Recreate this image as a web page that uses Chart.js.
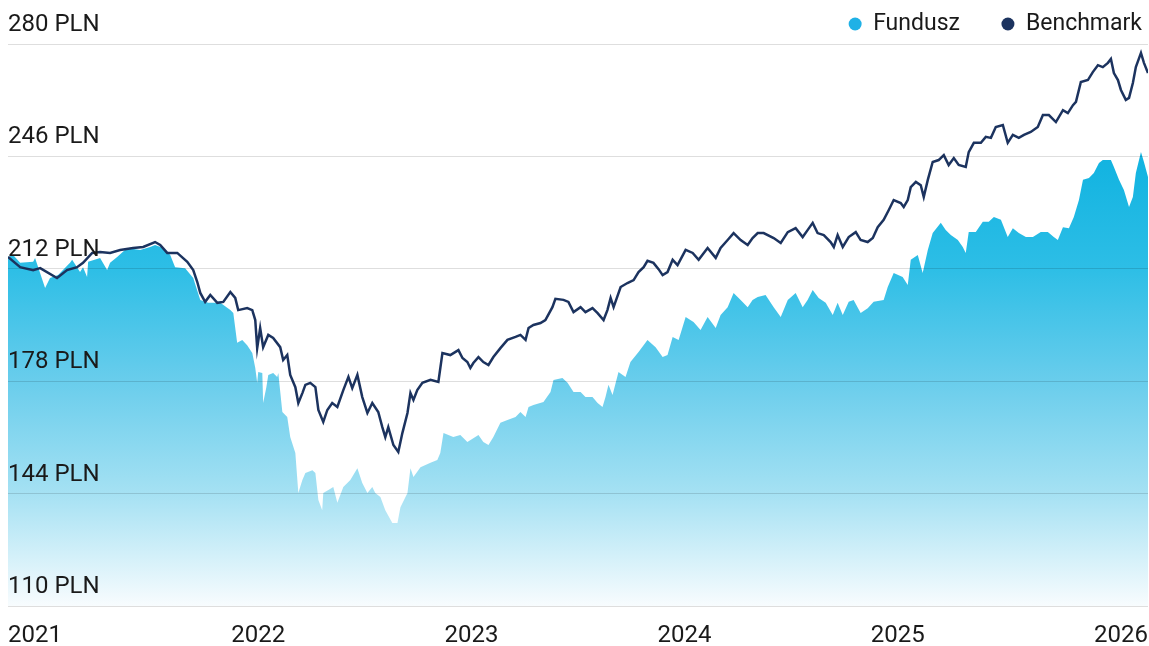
<!DOCTYPE html>
<html lang="pl">
<head>
<meta charset="utf-8">
<title>Fundusz vs Benchmark</title>
<script src="https://cdn.jsdelivr.net/npm/chart.js@4.4.1/dist/chart.umd.min.js"></script>
<style>
  html, body { margin: 0; padding: 0; background: #fff; }
  #wrap { width: 1149px; height: 646px; position: relative; }
</style>
</head>
<body>
<div id="wrap"><canvas id="chart"></canvas></div>
<script>
const yearLabels = ['2021', '2022', '2023', '2024', '2025', '2026'];
const yTicks = [110, 144, 178, 212, 246, 280];
const seriesNames = ['Fundusz', 'Benchmark'];
const seriesColors = ['#1fb1e6', '#1c335f'];

// dates as fractional years
const fundDates = [
  2020.826, 2020.850, 2020.883, 2020.944, 2020.953, 2021.000, 2021.023, 2021.061, 2021.117, 2021.127,
  2021.164, 2021.178, 2021.197, 2021.202, 2021.258, 2021.291, 2021.305, 2021.338, 2021.385, 2021.446,
  2021.493, 2021.516, 2021.554, 2021.587, 2021.610, 2021.657, 2021.695, 2021.728, 2021.765, 2021.822,
  2021.869, 2021.883, 2021.901, 2021.925, 2021.948, 2021.972, 2021.986, 2021.995, 2022.000, 2022.019,
  2022.023, 2022.038, 2022.047, 2022.070, 2022.089, 2022.094, 2022.113, 2022.136, 2022.150, 2022.174,
  2022.188, 2022.207, 2022.221, 2022.254, 2022.268, 2022.282, 2022.300, 2022.305, 2022.329, 2022.352,
  2022.371, 2022.399, 2022.432, 2022.465, 2022.488, 2022.512, 2022.535, 2022.549, 2022.573, 2022.596,
  2022.629, 2022.653, 2022.667, 2022.700, 2022.714, 2022.728, 2022.761, 2022.808, 2022.840, 2022.854,
  2022.869, 2022.915, 2022.948, 2022.981, 2023.033, 2023.056, 2023.080, 2023.103, 2023.136, 2023.169,
  2023.207, 2023.230, 2023.254, 2023.268, 2023.291, 2023.338, 2023.371, 2023.385, 2023.427, 2023.451,
  2023.479, 2023.512, 2023.535, 2023.568, 2023.592, 2023.615, 2023.629, 2023.643, 2023.662, 2023.690,
  2023.723, 2023.746, 2023.784, 2023.826, 2023.864, 2023.897, 2023.920, 2023.944, 2023.972, 2024.005,
  2024.042, 2024.075, 2024.108, 2024.146, 2024.169, 2024.202, 2024.230, 2024.263, 2024.296, 2024.319,
  2024.343, 2024.380, 2024.418, 2024.451, 2024.484, 2024.521, 2024.554, 2024.577, 2024.601, 2024.629,
  2024.662, 2024.695, 2024.718, 2024.742, 2024.770, 2024.793, 2024.826, 2024.859, 2024.887, 2024.934,
  2024.953, 2024.981, 2025.023, 2025.047, 2025.061, 2025.094, 2025.117, 2025.141, 2025.164, 2025.202,
  2025.225, 2025.249, 2025.282, 2025.305, 2025.319, 2025.333, 2025.366, 2025.399, 2025.427, 2025.451,
  2025.484, 2025.516, 2025.540, 2025.568, 2025.601, 2025.634, 2025.671, 2025.704, 2025.732, 2025.751,
  2025.775, 2025.803, 2025.826, 2025.850, 2025.869, 2025.897, 2025.920, 2025.944, 2025.962, 2026.000,
  2026.014, 2026.038, 2026.061, 2026.085, 2026.103, 2026.117, 2026.141, 2026.155, 2026.174
];
const fundValues = [
  215.6, 216.2, 213.8, 214.1, 215.3, 206.2, 209.2, 210.1, 213.8, 214.7,
  211.0, 212.5, 209.5, 214.1, 215.3, 211.6, 213.8, 215.6, 218.3, 217.7,
  218.6, 219.2, 218.3, 216.2, 212.5, 212.2, 209.2, 202.6, 201.7, 201.7,
  199.5, 198.6, 189.6, 190.5, 188.9, 186.5, 182.0, 177.5, 180.8, 180.5,
  171.4, 176.2, 179.9, 180.5, 179.3, 180.5, 168.7, 167.2, 161.1, 156.3,
  144.2, 148.1, 150.2, 151.1, 150.2, 142.1, 139.0, 144.2, 145.1, 146.0,
  141.2, 146.0, 148.1, 151.7, 147.2, 144.2, 146.0, 144.2, 143.0, 139.0,
  135.1, 135.1, 139.9, 144.2, 151.7, 149.0, 152.0, 153.3, 154.2, 156.3,
  162.3, 161.1, 161.7, 159.6, 161.7, 159.6, 158.7, 161.1, 165.4, 166.3,
  167.2, 168.7, 167.2, 170.2, 170.8, 171.7, 174.7, 178.4, 179.0, 177.5,
  174.7, 174.7, 173.2, 173.2, 171.4, 170.2, 173.2, 176.9, 173.8, 180.8,
  179.3, 183.8, 186.8, 190.5, 188.3, 185.3, 185.9, 191.4, 190.5, 197.4,
  195.9, 193.5, 197.4, 194.1, 198.0, 200.4, 204.7, 202.6, 200.4, 202.6,
  203.5, 204.1, 200.4, 197.4, 202.6, 204.7, 200.4, 202.6, 205.6, 203.2,
  201.7, 198.0, 201.7, 198.0, 202.0, 202.6, 198.6, 200.1, 202.0, 202.6,
  206.5, 210.7, 209.5, 207.1, 214.7, 216.2, 210.7, 217.7, 222.8, 225.9,
  223.7, 222.2, 220.7, 218.6, 216.8, 223.1, 223.1, 226.2, 226.2, 227.7,
  226.8, 221.6, 224.3, 222.8, 221.6, 221.6, 223.1, 223.1, 221.6, 220.7,
  224.6, 224.3, 227.7, 232.8, 238.9, 239.5, 241.0, 244.0, 244.9, 244.9,
  242.8, 238.9, 235.8, 230.7, 233.7, 241.0, 247.3, 244.3, 239.8
];

const benchDates = [
  2020.826, 2020.883, 2020.944, 2020.977, 2021.056, 2021.103, 2021.150, 2021.178, 2021.221, 2021.258,
  2021.305, 2021.352, 2021.413, 2021.460, 2021.516, 2021.540, 2021.573, 2021.620, 2021.667, 2021.695,
  2021.714, 2021.728, 2021.751, 2021.775, 2021.808, 2021.836, 2021.869, 2021.892, 2021.906, 2021.948,
  2021.972, 2021.986, 2021.995, 2022.009, 2022.023, 2022.047, 2022.070, 2022.103, 2022.117, 2022.136,
  2022.150, 2022.174, 2022.188, 2022.207, 2022.221, 2022.244, 2022.268, 2022.282, 2022.305, 2022.324,
  2022.347, 2022.371, 2022.399, 2022.423, 2022.441, 2022.465, 2022.488, 2022.512, 2022.535, 2022.563,
  2022.582, 2022.596, 2022.610, 2022.634, 2022.657, 2022.676, 2022.700, 2022.714, 2022.728, 2022.746,
  2022.770, 2022.808, 2022.845, 2022.864, 2022.901, 2022.939, 2022.958, 2022.981, 2022.995, 2023.009,
  2023.033, 2023.056, 2023.080, 2023.103, 2023.136, 2023.169, 2023.207, 2023.230, 2023.254, 2023.268,
  2023.291, 2023.324, 2023.347, 2023.380, 2023.394, 2023.432, 2023.455, 2023.479, 2023.512, 2023.535,
  2023.568, 2023.592, 2023.620, 2023.638, 2023.653, 2023.667, 2023.700, 2023.732, 2023.761, 2023.784,
  2023.808, 2023.826, 2023.854, 2023.878, 2023.897, 2023.920, 2023.944, 2023.967, 2024.005, 2024.038,
  2024.066, 2024.108, 2024.146, 2024.169, 2024.202, 2024.230, 2024.263, 2024.296, 2024.319, 2024.343,
  2024.371, 2024.418, 2024.451, 2024.484, 2024.521, 2024.554, 2024.577, 2024.601, 2024.624, 2024.653,
  2024.685, 2024.700, 2024.718, 2024.742, 2024.770, 2024.803, 2024.826, 2024.859, 2024.883, 2024.906,
  2024.934, 2024.958, 2024.981, 2025.014, 2025.028, 2025.047, 2025.061, 2025.085, 2025.108, 2025.122,
  2025.141, 2025.164, 2025.192, 2025.216, 2025.239, 2025.263, 2025.286, 2025.319, 2025.333, 2025.357,
  2025.390, 2025.413, 2025.437, 2025.460, 2025.493, 2025.516, 2025.540, 2025.568, 2025.592, 2025.624,
  2025.657, 2025.681, 2025.709, 2025.742, 2025.775, 2025.798, 2025.822, 2025.836, 2025.859, 2025.892,
  2025.915, 2025.939, 2025.962, 2025.986, 2026.000, 2026.014, 2026.033, 2026.047, 2026.070, 2026.085,
  2026.103, 2026.117, 2026.141, 2026.155, 2026.174
];
const benchValues = [
  215.6, 212.5, 211.6, 212.2, 209.2, 211.6, 212.5, 213.8, 216.8, 217.1,
  216.8, 217.7, 218.3, 218.6, 220.1, 219.2, 216.8, 216.8, 214.1, 211.6,
  208.0, 204.7, 202.0, 204.1, 201.7, 202.0, 205.0, 203.2, 199.5, 200.1,
  199.5, 196.5, 188.0, 194.1, 188.3, 192.0, 191.1, 188.3, 184.4, 185.9,
  179.9, 176.2, 171.4, 174.4, 176.9, 177.5, 176.2, 169.3, 165.7, 169.3,
  171.4, 170.2, 175.3, 179.3, 175.9, 179.9, 173.2, 168.4, 171.4, 168.7,
  164.1, 161.1, 164.1, 158.7, 156.6, 162.3, 168.4, 174.4, 172.3, 175.3,
  177.5, 178.4, 177.8, 186.5, 185.9, 187.4, 185.0, 183.8, 182.0, 183.5,
  185.3, 183.8, 182.9, 185.3, 188.0, 190.5, 191.4, 192.0, 190.5, 194.1,
  195.0, 195.6, 196.5, 200.4, 202.9, 202.6, 202.0, 198.9, 200.4, 198.9,
  200.1, 198.6, 196.5, 199.5, 203.2, 200.4, 206.5, 207.7, 208.6, 211.0,
  212.5, 214.4, 213.8, 211.9, 210.1, 211.0, 214.7, 213.1, 217.7, 216.8,
  214.7, 218.3, 215.3, 218.3, 220.7, 222.8, 220.7, 219.2, 221.3, 222.8,
  222.8, 221.3, 219.8, 223.1, 224.3, 221.6, 223.7, 225.9, 222.8, 222.2,
  220.1, 218.6, 222.2, 218.6, 221.6, 223.1, 220.7, 220.1, 221.3, 224.6,
  226.8, 229.8, 232.8, 231.9, 230.7, 232.8, 236.7, 238.3, 237.3, 233.7,
  238.9, 244.3, 244.9, 246.4, 243.4, 245.5, 243.4, 242.8, 247.3, 250.1,
  250.1, 251.9, 251.6, 254.9, 255.5, 250.1, 252.5, 251.6, 252.5, 253.4,
  254.9, 258.5, 258.5, 256.4, 260.0, 259.1, 261.5, 262.5, 268.5, 269.1,
  271.5, 273.6, 273.0, 274.3, 275.5, 271.2, 269.1, 266.1, 263.1, 263.7,
  268.2, 273.0, 277.3, 274.3, 271.2
];

const textColor = '#1a1a1a';
const fontFamily = 'Roboto, "Open Sans", sans-serif';

function toPoints(xs, ys) {
  return xs.map((x, i) => ({ x: x, y: ys[i] }));
}

// vertical gradient from cyan at the top to almost white at the bottom
function fundFill(context) {
  const chart = context.chart;
  const area = chart.chartArea;
  if (!area) return 'rgba(31,177,230,0.6)';
  const g = chart.ctx.createLinearGradient(0, area.top, 0, area.bottom);
  g.addColorStop(0, 'rgb(0,172,222)');
  g.addColorStop(0.22, 'rgb(20,180,225)');
  g.addColorStop(0.4, 'rgb(45,190,230)');
  g.addColorStop(0.6, 'rgb(105,205,236)');
  g.addColorStop(0.8, 'rgb(165,225,243)');
  g.addColorStop(1, 'rgb(248,252,254)');
  return g;
}

// legend in the top band, right aligned
const topLegend = {
  id: 'topLegend',
  afterDraw(chart) {
    const ctx = chart.ctx;
    ctx.save();
    ctx.font = '23px ' + fontFamily;
    ctx.textBaseline = 'middle';
    ctx.textAlign = 'left';
    let right = chart.width - 7;
    for (let i = seriesNames.length - 1; i >= 0; i--) {
      const w = ctx.measureText(seriesNames[i]).width;
      const textX = right - w;
      const dotX = textX - 18;
      ctx.fillStyle = seriesColors[i];
      ctx.beginPath();
      ctx.arc(dotX, 24, 6.5, 0, Math.PI * 2);
      ctx.fill();
      ctx.fillStyle = textColor;
      ctx.fillText(seriesNames[i], textX, 24);
      right = dotX - 48;
    }
    ctx.restore();
  }
};

new Chart(document.getElementById('chart'), {
  type: 'line',
  data: {
    datasets: [
      {
        label: seriesNames[0],
        data: toPoints(fundDates, fundValues),
        borderWidth: 0,
        pointRadius: 0,
        fill: 'start',
        backgroundColor: fundFill,
        order: 2
      },
      {
        label: seriesNames[1],
        data: toPoints(benchDates, benchValues),
        borderColor: seriesColors[1],
        borderWidth: 2.5,
        pointRadius: 0,
        fill: false,
        order: 1
      }
    ]
  },
  options: {
    responsive: true,
    maintainAspectRatio: false,
    animation: false,
    layout: { padding: { top: 44, left: 8, right: 1, bottom: 0 } },
    plugins: {
      legend: { display: false },
      tooltip: { enabled: false }
    },
    scales: {
      x: {
        type: 'linear',
        min: fundDates[0],
        max: fundDates[fundDates.length - 1],
        grid: { display: false, drawTicks: false },
        border: { display: false },
        afterBuildTicks(scale) {
          const last = yearLabels.length - 1;
          scale.ticks = yearLabels.map((l, i) => ({
            value: i === 0 ? scale.min : (i === last ? scale.max : Number(l))
          }));
        },
        afterFit(scale) {
          scale.paddingLeft = 0;
          scale.paddingRight = 0;
          scale.height = 40;
        },
        ticks: {
          align: 'inner',
          maxRotation: 0,
          autoSkip: false,
          padding: 16,
          color: textColor,
          font: { family: fontFamily, size: 24 },
          callback: (v, i) => yearLabels[i]
        }
      },
      y: {
        min: yTicks[0],
        max: yTicks[yTicks.length - 1],
        border: { display: false },
        grid: { color: 'rgba(0,0,0,0.13)', drawTicks: false, lineWidth: 1, z: 1 },
        afterBuildTicks(scale) {
          scale.ticks = yTicks.map(v => ({ value: v }));
        },
        afterFit(scale) {
          scale.paddingTop = 0;
          scale.paddingBottom = 0;
        },
        ticks: {
          z: 1,
          mirror: true,
          padding: 0,
          labelOffset: -19,
          autoSkip: false,
          color: textColor,
          font: { family: fontFamily, size: 24 },
          callback: v => v + ' PLN'
        }
      }
    }
  },
  plugins: [topLegend]
});
</script>
</body>
</html>
